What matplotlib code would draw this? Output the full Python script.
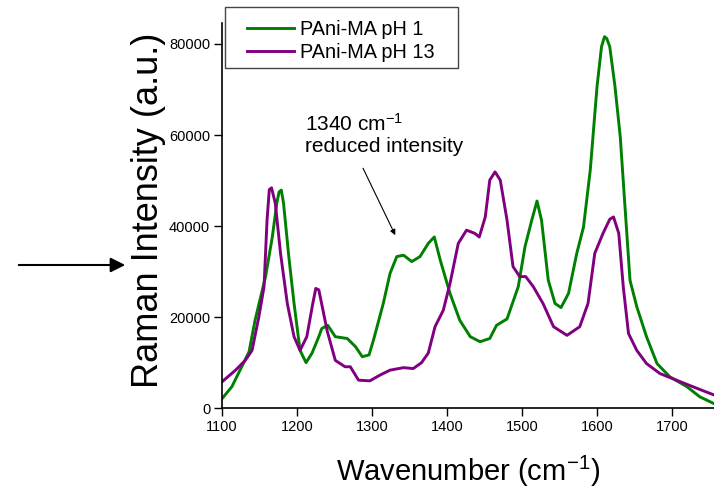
import matplotlib
matplotlib.use("Agg")
import matplotlib.pyplot as plt
from matplotlib.patches import Rectangle, FancyArrowPatch

plt.rcParams["font.family"] = ["Liberation Sans", "DejaVu Sans"]
plt.rcParams["mathtext.fontset"] = "custom"
plt.rcParams["mathtext.rm"] = "Liberation Sans"
plt.rcParams["mathtext.it"] = "Liberation Sans:italic"
plt.rcParams["mathtext.default"] = "regular"

# PAni-MA pH 1 (green)
wn_ph1 = [1100, 1113, 1124, 1136, 1144, 1158, 1167, 1173, 1176, 1179, 1182, 1189, 1196,
          1204, 1212, 1220, 1229, 1233, 1241, 1251, 1267, 1278, 1287, 1296, 1302,
          1315, 1324, 1333, 1342, 1353, 1364, 1375, 1383, 1391, 1404, 1417, 1431,
          1444, 1457, 1466, 1480, 1495, 1504, 1513, 1520, 1526, 1535, 1544, 1552,
          1562, 1573, 1582, 1591, 1600, 1606, 1610, 1613, 1617, 1624, 1631, 1637, 1644,
          1653, 1666, 1680, 1697, 1720, 1737, 1756]
int_ph1 = [2100, 4700, 8350, 12400, 19300, 28900, 37600, 45000, 47500, 47900, 45000, 33300, 23000,
           12700, 10000, 12100, 15700, 17500, 18200, 15700, 15300, 13500, 11300, 11700, 15000,
           23000, 29600, 33300, 33600, 32200, 33300, 36200, 37600, 32500, 25200, 19300, 15700,
           14600, 15300, 18200, 19600, 26700, 35500, 41300, 45500, 41300, 28100, 23000, 22100,
           25200, 34000, 39800, 52300, 70600, 79400, 81600, 81200, 79400, 70600, 59600, 45000, 28100,
           22300, 15700, 9800, 6900, 4700, 2500, 1000]

# PAni-MA pH 13 (purple)
wn_ph13 = [1100, 1118, 1131, 1140, 1149, 1156, 1160, 1163, 1166, 1171, 1178, 1187, 1196,
           1204, 1213, 1221, 1225, 1229, 1234, 1240, 1251, 1264, 1271, 1282, 1297, 1311,
           1324, 1342, 1355, 1366, 1375, 1384, 1395, 1404, 1415, 1426, 1437, 1443,
           1451, 1457, 1464, 1471, 1480, 1488, 1497, 1505, 1515, 1528, 1542, 1560,
           1577, 1588, 1597, 1608, 1617, 1622, 1629, 1635, 1642, 1653, 1666, 1684, 1706,
           1728, 1756]
int_ph13 = [5800, 8350, 10500, 12700, 20000, 26700, 41300, 48000, 48400, 45000, 34000, 23000, 15700,
            12700, 15700, 23000, 26300, 26000, 22000, 17100, 10500, 9100, 9100, 6150, 6000, 7300,
            8350, 8900, 8700, 10000, 12100, 17900, 21500, 27400, 36200, 39100, 38400, 37600,
            42000, 50100, 51900, 50100, 41300, 31100, 28900, 28900, 26700, 23000, 17900, 16000,
            17900, 23000, 34000, 38400, 41500, 42000, 38400, 26700, 16400, 12700, 9800, 7600, 6150,
            4700, 2900]

x_ticks = [1100, 1200, 1300, 1400, 1500, 1600, 1700]
y_ticks = [0, 20000, 40000, 60000, 80000]

W, H = 714, 490
fig = plt.figure(figsize=(W / 100, H / 100), dpi=100)
ax = fig.add_axes([0.311, 0.167, 0.689, 0.786])

ax.plot(wn_ph1, int_ph1, color="#008000", lw=2.1, label="PAni-MA pH 1")
ax.plot(wn_ph13, int_ph13, color="#800080", lw=2.1, label="PAni-MA pH 13")

ax.set_xlim(1100, 1756)
ax.set_ylim(0, 84600)
ax.set_xticks(x_ticks)
ax.set_yticks(y_ticks)
ax.tick_params(direction="out", length=6, width=1, pad=2.5, labelsize=10.5, colors="black")
for side in ["top", "right"]:
    ax.spines[side].set_visible(False)
for side in ["left", "bottom"]:
    ax.spines[side].set_linewidth(1.2)

ax.set_xlabel("Wavenumber (cm$^{-1}$)", fontsize=21, labelpad=14)
ax.set_ylabel("Raman Intensity (a.u.)", fontsize=26)
ax.yaxis.set_label_coords(-0.114, 0.515)

ax.text(1210.7, 64800, "1340 cm$^{-1}$\nreduced intensity", fontsize=15,
        ha="left", va="top", linespacing=1.1)
ax.annotate("", xy=(1331, 38000), xytext=(1288, 52700),
            arrowprops=dict(arrowstyle="-|>", color="black", lw=0.8,
                            mutation_scale=8, shrinkA=0, shrinkB=0))

# legend frame drawn separately, entries placed inside it
fig.add_artist(Rectangle((225 / W, 1 - 68 / H), 233 / W, 61 / H,
                         transform=fig.transFigure, fill=False,
                         edgecolor="#444444", lw=1.0))
fig.legend(loc="upper left", bbox_to_anchor=(247 / W, 1 - 20 / H),
           fontsize=14.3, frameon=False, handlelength=2.35, handletextpad=0.3,
           borderpad=0, labelspacing=0.22, borderaxespad=0)

# arrow pointing at the axis from the left
fig.add_artist(FancyArrowPatch(
    (16 / W, 1 - 265 / H), (128 / W, 1 - 265 / H),
    transform=fig.transFigure, arrowstyle="-|>", mutation_scale=22,
    color="black", lw=1.5))

fig.savefig("out.png", dpi=100)
